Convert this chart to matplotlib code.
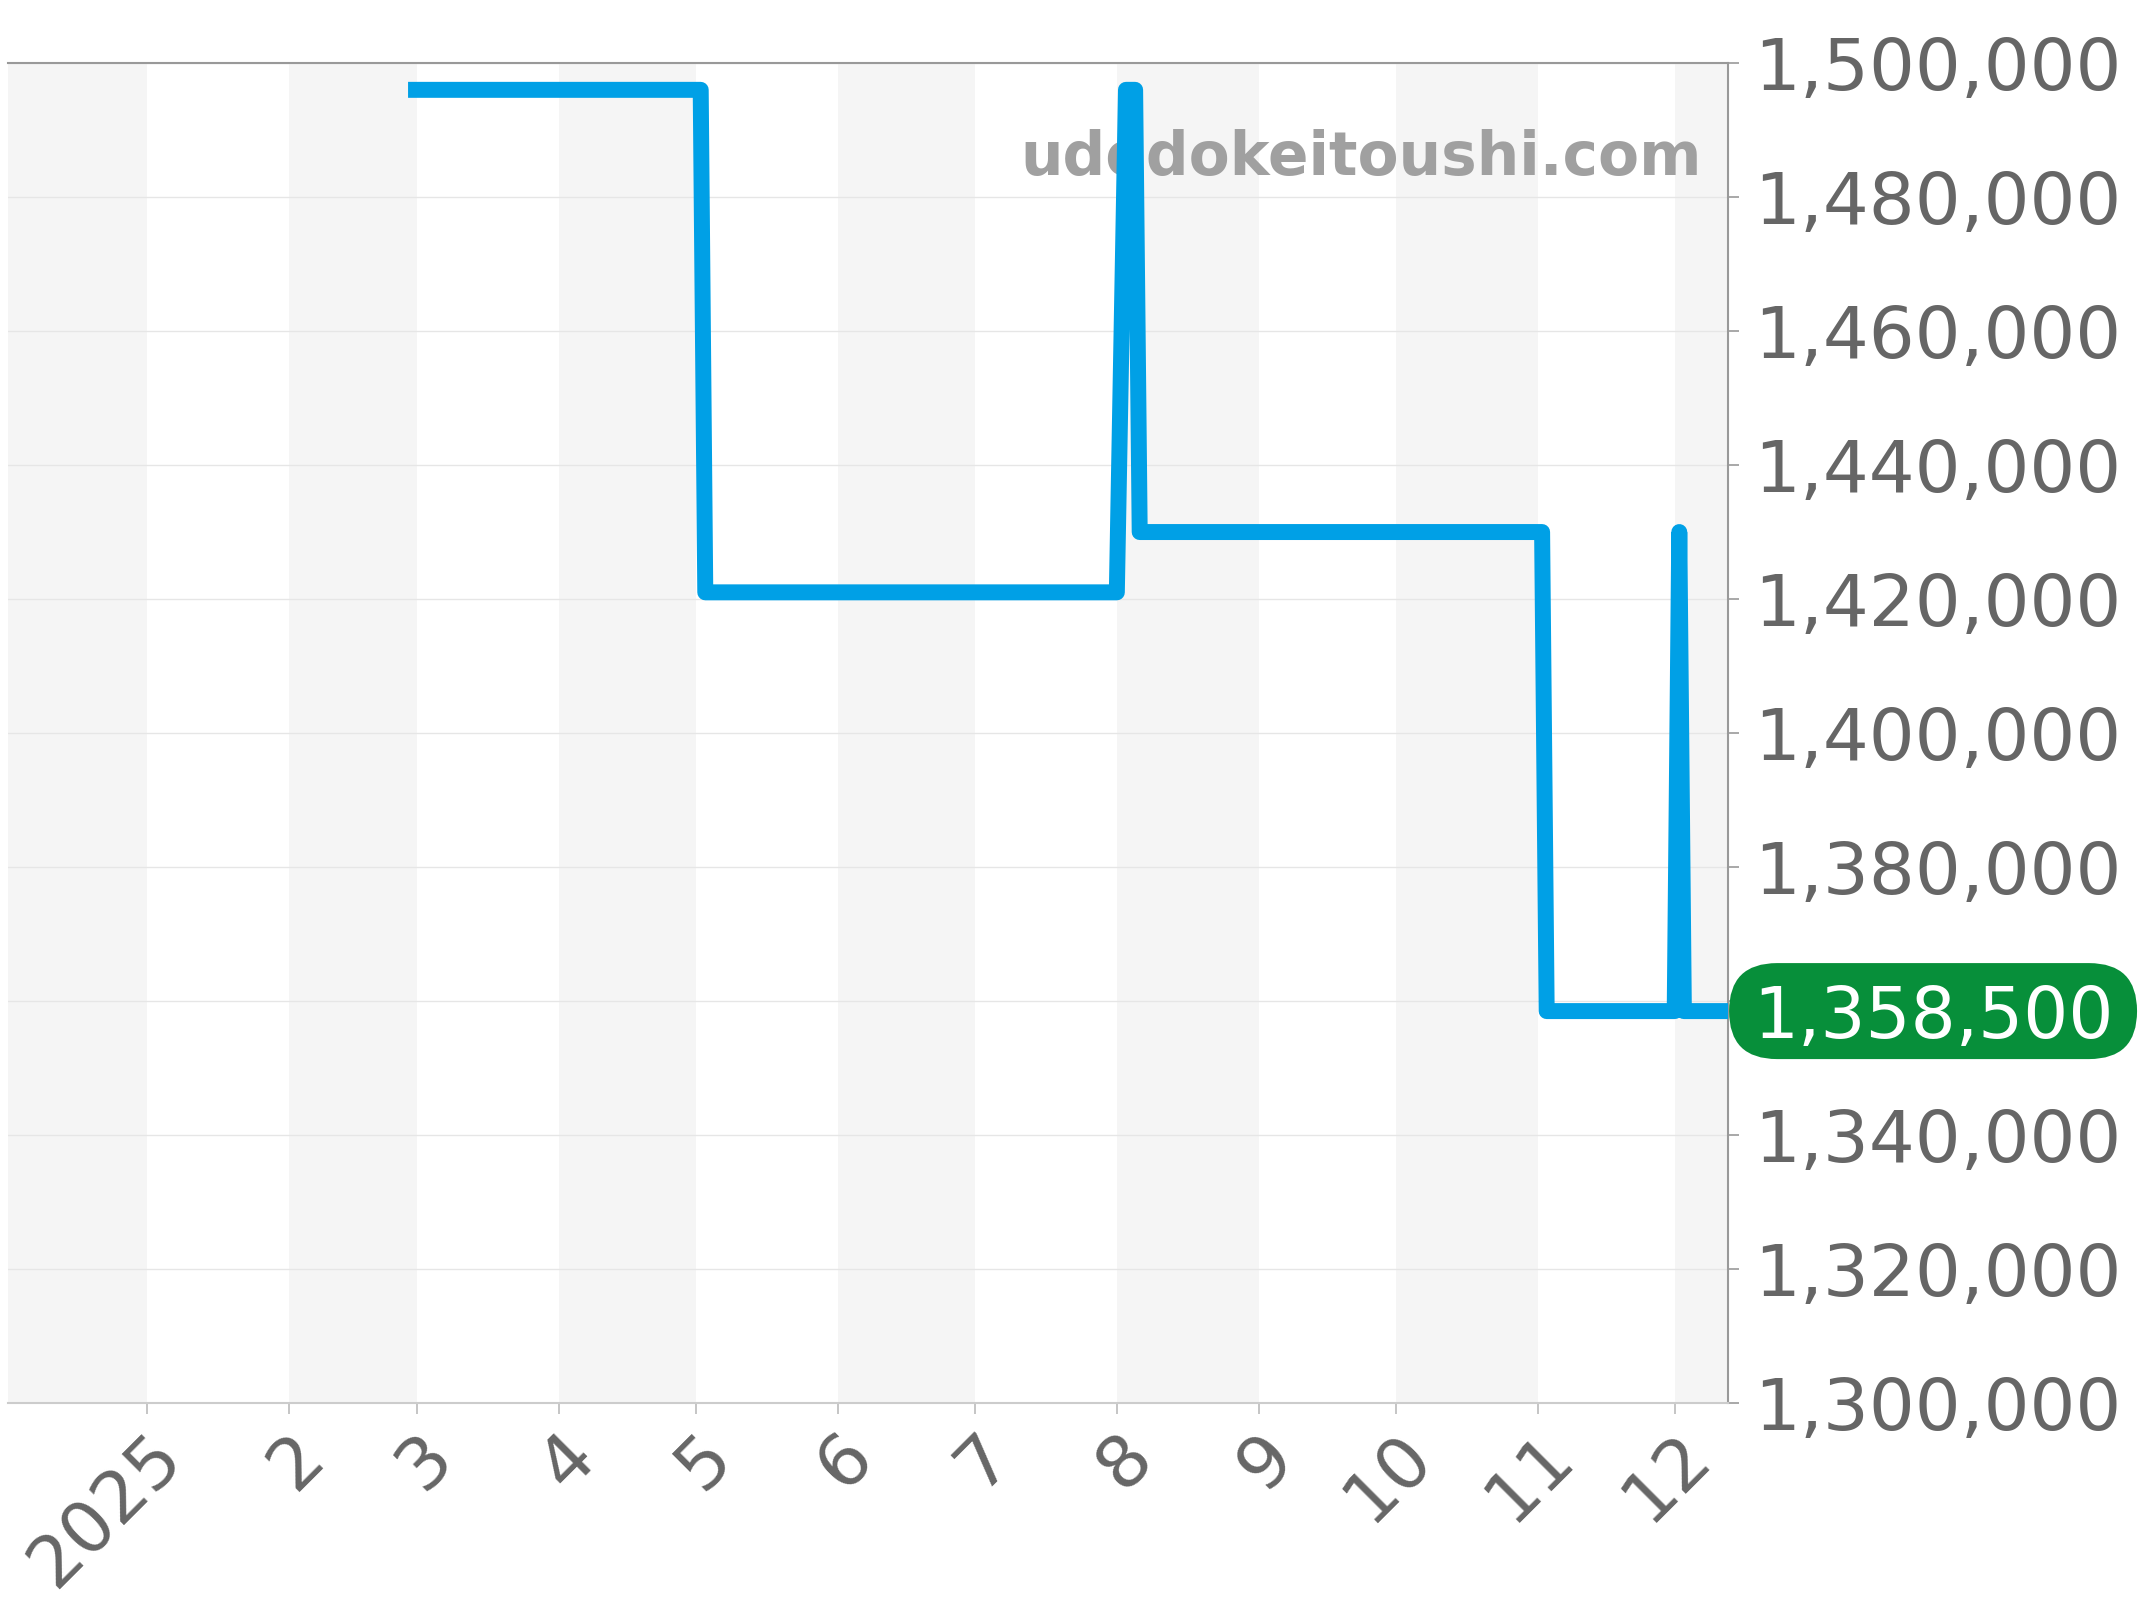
import matplotlib
matplotlib.use('Agg')
import matplotlib.pyplot as plt
import matplotlib.transforms as mtransforms
from matplotlib.patches import FancyBboxPatch
from matplotlib.ticker import FuncFormatter
import pandas as pd

# 価格データ
dates = ['2025-02-27', '2025-05-02', '2025-05-03', '2025-08-01', '2025-08-03',
         '2025-08-05', '2025-08-06', '2025-11-02', '2025-11-03', '2025-12-01',
         '2025-12-02', '2025-12-03', '2025-12-14']
prices = [1496000, 1496000, 1421000, 1421000, 1496000,
          1496000, 1430000, 1430000, 1358500, 1358500,
          1430000, 1358500, 1358500]

# 軸の設定
month_ticks = ['2025-01-01', '2025-02-01', '2025-03-01', '2025-04-01', '2025-05-01',
               '2025-06-01', '2025-07-01', '2025-08-01', '2025-09-01', '2025-10-01',
               '2025-11-01', '2025-12-01']
month_labels = ['2025', '2', '3', '4', '5', '6', '7', '8', '9', '10', '11', '12']
shaded_months = [('2024-12-01', '2025-01-01'), ('2025-02-01', '2025-03-01'),
                 ('2025-04-01', '2025-05-01'), ('2025-06-01', '2025-07-01'),
                 ('2025-08-01', '2025-09-01'), ('2025-10-01', '2025-11-01'),
                 ('2025-12-01', '2026-01-01')]
y_ticks = [1300000, 1320000, 1340000, 1360000, 1380000, 1400000,
           1420000, 1440000, 1460000, 1480000, 1500000]
hidden_tick = 1360000  # バッジの下に隠れるラベル
last_price = 1358500
watermark = 'udedokeitoushi.com'

x = pd.to_datetime(dates)

fig = plt.figure(figsize=(21.44, 16), dpi=100)
ax = fig.add_axes([0.0037, 0.1231, 0.8023, 0.8375])

# 月ごとの背景
for start, end in shaded_months:
    ax.axvspan(pd.Timestamp(start), pd.Timestamp(end), color='#f5f5f5', lw=0, zorder=0)

ax.grid(axis='y', color='#e6e6e6', lw=1, zorder=1)
ax.grid(axis='x', visible=False)

ax.text(0.985, 0.9164, watermark, transform=ax.transAxes, ha='right', va='baseline',
        fontsize=43, fontweight='bold', color='#a0a0a0', zorder=2)

ax.plot(x, prices, color='#00a0e6', lw=11.5, solid_capstyle='butt',
        solid_joinstyle='round', zorder=3)

ax.set_xlim(pd.Timestamp('2024-12-01 12:00'), pd.Timestamp('2025-12-12 16:00'))
ax.set_ylim(1300000, 1500000)

ax.set_xticks([pd.Timestamp(d) for d in month_ticks])
ax.set_xticklabels(month_labels, rotation=45, ha='right', rotation_mode='anchor')
ax.set_yticks(y_ticks)
ax.yaxis.tick_right()
ax.yaxis.set_major_formatter(FuncFormatter(lambda v, p: '' if int(v) == hidden_tick else f'{int(v):,}'))

ax.tick_params(axis='y', length=8, width=1.2, color='#999999', pad=11,
               labelsize=52, labelcolor='#666666')
ax.tick_params(axis='x', length=8, width=1.2, color='#bbbbbb', pad=5,
               labelsize=52, labelcolor='#666666')

ax.spines['left'].set_visible(False)
ax.spines['top'].set_color('#999999')
ax.spines['top'].set_linewidth(1.5)
ax.spines['right'].set_color('#999999')
ax.spines['right'].set_linewidth(1.5)
ax.spines['bottom'].set_color('#cccccc')
ax.spines['bottom'].set_linewidth(1.5)

# 最新価格ラベル（ピクセル単位のバッジ）
trans = mtransforms.blended_transform_factory(ax.transAxes, ax.transData)
bx, by = trans.transform((1.0, last_price))
badge_w, badge_h = 408, 96
badge = FancyBboxPatch((bx + 1, by - badge_h / 2), badge_w, badge_h,
                       boxstyle=f'round,pad=0,rounding_size={badge_h / 2}',
                       transform=mtransforms.IdentityTransform(),
                       fc='#078f3a', ec='none', zorder=5)
fig.add_artist(badge)
fig.text(bx + 1 + badge_w / 2, by, f'{last_price:,}', transform=mtransforms.IdentityTransform(),
         ha='center', va='center_baseline', fontsize=51, color='white', zorder=6)

plt.savefig('out.png', dpi=100)
